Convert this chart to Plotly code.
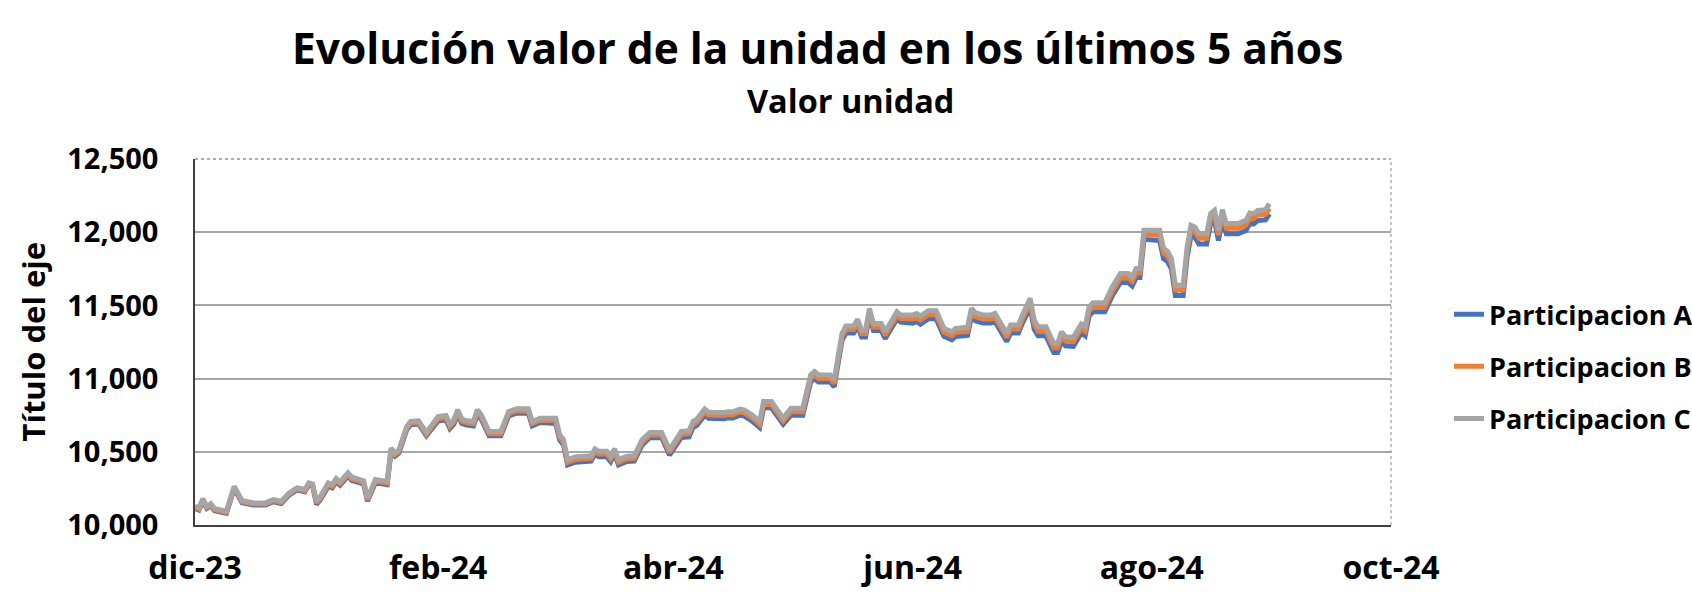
import plotly.graph_objects as go

# ---- data ----
dates = [
    # Dec 2023
    "2023-12-01", "2023-12-02", "2023-12-03", "2023-12-04", "2023-12-05", "2023-12-06",
    "2023-12-09", "2023-12-11", "2023-12-13", "2023-12-16", "2023-12-19", "2023-12-21",
    "2023-12-23", "2023-12-25", "2023-12-27", "2023-12-29", "2023-12-30", "2023-12-31",
    # Jan 2024
    "2024-01-01", "2024-01-02", "2024-01-04", "2024-01-05", "2024-01-06", "2024-01-07",
    "2024-01-09", "2024-01-10", "2024-01-13", "2024-01-14", "2024-01-16", "2024-01-19",
    "2024-01-20", "2024-01-21", "2024-01-22", "2024-01-24", "2024-01-25", "2024-01-27",
    "2024-01-29",
    # Feb
    "2024-02-01", "2024-02-03", "2024-02-04", "2024-02-05", "2024-02-06", "2024-02-07",
    "2024-02-08", "2024-02-10", "2024-02-11", "2024-02-12", "2024-02-14", "2024-02-17",
    "2024-02-19", "2024-02-21", "2024-02-24", "2024-02-25", "2024-02-27",
    # Mar
    "2024-03-02", "2024-03-03", "2024-03-04", "2024-03-05", "2024-03-07", "2024-03-09",
    "2024-03-11", "2024-03-12", "2024-03-13", "2024-03-15", "2024-03-16", "2024-03-17",
    "2024-03-18", "2024-03-20", "2024-03-22", "2024-03-24", "2024-03-26", "2024-03-29",
    "2024-03-31",
    # Apr
    "2024-04-03", "2024-04-05", "2024-04-06", "2024-04-07", "2024-04-09", "2024-04-10",
    "2024-04-14", "2024-04-15", "2024-04-16", "2024-04-18", "2024-04-19", "2024-04-21",
    "2024-04-23", "2024-04-24", "2024-04-26", "2024-04-29",
    # May
    "2024-05-01", "2024-05-04", "2024-05-06", "2024-05-07", "2024-05-08", "2024-05-11",
    "2024-05-12", "2024-05-14", "2024-05-15", "2024-05-17", "2024-05-18", "2024-05-19",
    "2024-05-20", "2024-05-21", "2024-05-22", "2024-05-24", "2024-05-25", "2024-05-28",
    "2024-05-29",
    # Jun
    "2024-06-01", "2024-06-02", "2024-06-03", "2024-06-05", "2024-06-07", "2024-06-09",
    "2024-06-11", "2024-06-12", "2024-06-15", "2024-06-16", "2024-06-17", "2024-06-19",
    "2024-06-21", "2024-06-22", "2024-06-23", "2024-06-25", "2024-06-26", "2024-06-28",
    "2024-06-29",
    # Jul
    "2024-07-01", "2024-07-02", "2024-07-03", "2024-07-05", "2024-07-07", "2024-07-08",
    "2024-07-09", "2024-07-10", "2024-07-12", "2024-07-14", "2024-07-15", "2024-07-16",
    "2024-07-17", "2024-07-20", "2024-07-22", "2024-07-24", "2024-07-26", "2024-07-27",
    "2024-07-28", "2024-07-29", "2024-07-30",
    # Aug
    "2024-08-03", "2024-08-04", "2024-08-05", "2024-08-06", "2024-08-07", "2024-08-09",
    "2024-08-10", "2024-08-11", "2024-08-12", "2024-08-13", "2024-08-15", "2024-08-16",
    "2024-08-17", "2024-08-18", "2024-08-19", "2024-08-20", "2024-08-23", "2024-08-25",
    "2024-08-26", "2024-08-27", "2024-08-28", "2024-08-30", "2024-08-31",
]

participacion_c = [
    10128, 10117, 10180, 10128, 10146, 10112, 10094, 10264, 10167, 10151, 10151, 10174,
    10162, 10219, 10253, 10242, 10287, 10280,
    10162, 10196, 10287, 10276, 10317, 10294, 10356, 10326, 10303, 10185, 10310, 10298,
    10526, 10492, 10514, 10673, 10707, 10712, 10632,
    10741, 10748, 10689, 10719, 10787, 10725, 10714, 10707, 10787, 10753, 10639, 10639,
    10775, 10794, 10794, 10707, 10730,
    10730, 10616, 10582, 10446, 10465, 10473, 10473, 10519, 10503, 10503, 10469, 10521,
    10446, 10469, 10473, 10582, 10632, 10632, 10514,
    10639, 10644, 10707, 10723, 10792, 10771, 10768, 10775, 10771, 10792, 10787, 10753,
    10707, 10843, 10843, 10730,
    10798, 10798, 11025, 11048, 11025, 11025, 10991, 11309, 11359, 11359, 11405, 11332,
    11332, 11480, 11377, 11377, 11320, 11456, 11434,
    11434, 11445, 11427, 11463, 11463, 11343, 11320, 11343, 11350, 11480, 11450, 11434,
    11434, 11445, 11400, 11309, 11366, 11366, 11434,
    11548, 11400, 11354, 11354, 11241, 11241, 11320, 11286, 11282, 11373, 11354, 11490,
    11518, 11518, 11631, 11718, 11718, 11695, 11752, 11752, 12013,
    12013, 11888, 11870, 11820, 11638, 11638, 11899, 12047, 12035, 11990, 11990, 12127,
    12149, 12013, 12154, 12059, 12059, 12081, 12131, 12127, 12149, 12154, 12195,
]

participacion_b = [
    10120, 10109, 10172, 10120, 10138, 10104, 10086, 10256, 10159, 10143, 10143, 10166,
    10154, 10211, 10245, 10234, 10279, 10272,
    10150, 10184, 10275, 10264, 10305, 10282, 10344, 10314, 10291, 10173, 10298, 10286,
    10514, 10480, 10502, 10661, 10695, 10700, 10620,
    10726, 10733, 10674, 10704, 10772, 10710, 10699, 10692, 10772, 10738, 10624, 10624,
    10760, 10779, 10779, 10692, 10715,
    10712, 10598, 10564, 10428, 10447, 10455, 10455, 10501, 10485, 10485, 10451, 10503,
    10428, 10451, 10455, 10564, 10614, 10614, 10496,
    10619, 10624, 10687, 10703, 10772, 10751, 10748, 10755, 10751, 10772, 10767, 10733,
    10687, 10823, 10823, 10710,
    10774, 10774, 11001, 11024, 11001, 11001, 10967, 11285, 11335, 11335, 11381, 11308,
    11308, 11456, 11353, 11353, 11296, 11432, 11410,
    11407, 11418, 11400, 11436, 11436, 11316, 11293, 11316, 11323, 11453, 11423, 11407,
    11407, 11418, 11373, 11282, 11339, 11339, 11407,
    11518, 11370, 11324, 11324, 11211, 11211, 11290, 11256, 11252, 11343, 11324, 11460,
    11488, 11488, 11601, 11688, 11688, 11665, 11722, 11722, 11983,
    11981, 11856, 11838, 11788, 11606, 11606, 11867, 12015, 12003, 11958, 11958, 12095,
    12117, 11981, 12122, 12027, 12027, 12049, 12099, 12095, 12117, 12122, 12163,
]

participacion_a = [
    10113, 10102, 10165, 10113, 10131, 10097, 10079, 10249, 10152, 10136, 10136, 10159,
    10147, 10204, 10238, 10227, 10272, 10265,
    10140, 10174, 10265, 10254, 10295, 10272, 10334, 10304, 10281, 10163, 10288, 10276,
    10504, 10470, 10492, 10651, 10685, 10690, 10610,
    10711, 10718, 10659, 10689, 10757, 10695, 10684, 10677, 10757, 10723, 10609, 10609,
    10745, 10764, 10764, 10677, 10700,
    10694, 10580, 10546, 10410, 10429, 10437, 10437, 10483, 10467, 10467, 10433, 10485,
    10410, 10433, 10437, 10546, 10596, 10596, 10478,
    10597, 10602, 10665, 10681, 10750, 10729, 10726, 10733, 10729, 10750, 10745, 10711,
    10665, 10801, 10801, 10688,
    10750, 10750, 10977, 11000, 10977, 10977, 10943, 11261, 11311, 11311, 11357, 11284,
    11284, 11432, 11329, 11329, 11272, 11408, 11386,
    11379, 11390, 11372, 11408, 11408, 11288, 11265, 11288, 11295, 11425, 11395, 11379,
    11379, 11390, 11345, 11254, 11311, 11311, 11379,
    11486, 11338, 11292, 11292, 11179, 11179, 11258, 11224, 11220, 11311, 11292, 11428,
    11456, 11456, 11569, 11656, 11656, 11633, 11690, 11690, 11951,
    11943, 11818, 11800, 11750, 11568, 11568, 11829, 11977, 11965, 11920, 11920, 12057,
    12079, 11943, 12084, 11989, 11989, 12011, 12061, 12057, 12079, 12084, 12125,
]

series_names = ["Participacion A", "Participacion B", "Participacion C"]
series_colors = ["#4472C4", "#ED7D31", "#A5A5A5"]

x_tick_vals = ["2023-12-01", "2024-02-01", "2024-04-01", "2024-06-01", "2024-08-01", "2024-10-01"]
x_tick_text = ["dic-23", "feb-24", "abr-24", "jun-24", "ago-24", "oct-24"]
y_tick_vals = [10000, 10500, 11000, 11500, 12000, 12500]
y_tick_text = ["10,000", "10,500", "11,000", "11,500", "12,000", "12,500"]

title_text = "Evolución valor de la unidad en los últimos 5 años"
subtitle_text = "Valor unidad"
y_title_text = "Título del eje"

FONT = "Open Sans"

fig = go.Figure()
for name, vals, col in zip(series_names,
                           [participacion_a, participacion_b, participacion_c],
                           series_colors):
    fig.add_trace(go.Scatter(
        x=dates, y=vals, mode="lines", name=name, legendgroup=name,
        line=dict(color=col, width=5),
    ))

W, H = 1692, 594
L, R = 195, 1391
T, B = 158.5, 525.5
pw, ph = R - L, B - T

def px(xp):
    return (xp - L) / pw

def py(yp):
    return (B - yp) / ph

fig.update_layout(
    width=W, height=H,
    margin=dict(l=L, r=W - R, t=T, b=H - B, pad=0, autoexpand=False),
    paper_bgcolor="white", plot_bgcolor="white",
    font=dict(family=FONT, color="#000000"),
    showlegend=True,
    legend=dict(
        x=px(1449), y=py(290), xanchor="left", yanchor="top",
        font=dict(family=FONT, size=27, color="#000000", weight="bold"),
        traceorder="grouped", tracegroupgap=14,
        bgcolor="rgba(0,0,0,0)",
    ),
    xaxis=dict(
        type="date", range=["2023-12-01", "2024-10-01"],
        tickmode="array", tickvals=x_tick_vals, ticktext=x_tick_text,
        tickfont=dict(family=FONT, size=32, color="#000000", weight="bold"),
        ticks="", ticklabelstandoff=14, automargin=False,
        showgrid=False, zeroline=False,
        showline=True, linecolor="#404040", linewidth=1.5,
    ),
    yaxis=dict(
        range=[10000, 12500],
        tickmode="array", tickvals=y_tick_vals, ticktext=y_tick_text,
        tickfont=dict(family=FONT, size=29, color="#000000", weight="bold"),
        ticks="", ticklabelstandoff=29, automargin=False,
        showgrid=True, gridcolor="#A6A6A6", gridwidth=1.5,
        zeroline=False,
        showline=True, linecolor="#404040", linewidth=1.5,
    ),
    shapes=[
        dict(type="line", xref="paper", yref="paper", x0=0, x1=1, y0=1, y1=1,
             line=dict(color="#595959", width=1, dash="dot"), layer="above"),
        dict(type="line", xref="paper", yref="paper", x0=1, x1=1, y0=0, y1=1,
             line=dict(color="#8C8C8C", width=1, dash="dot"), layer="above"),
    ],
    annotations=[
        dict(text=title_text, xref="paper", yref="paper",
             x=px(817), y=py(47), xanchor="center", yanchor="middle",
             showarrow=False,
             font=dict(family=FONT, size=42.5, color="#000000", weight="bold")),
        dict(text=subtitle_text, xref="paper", yref="paper",
             x=px(850), y=py(100), xanchor="center", yanchor="middle",
             showarrow=False,
             font=dict(family=FONT, size=32.5, color="#000000", weight="bold")),
        dict(text=y_title_text, xref="paper", yref="paper",
             x=px(32.5), y=0.5, xanchor="center", yanchor="middle",
             textangle=-90, showarrow=False,
             font=dict(family=FONT, size=31, color="#000000", weight="bold")),
    ],
)

fig.write_html("out.html", config={"displayModeBar": False},
               post_script="document.body.style.margin='0px';")
